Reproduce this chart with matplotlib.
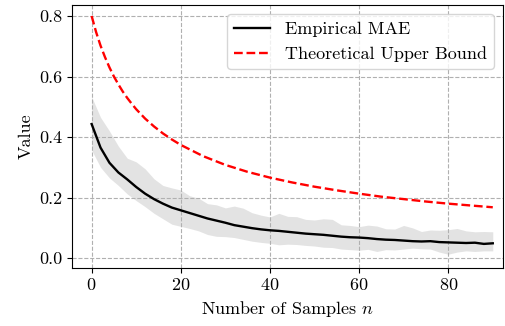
import matplotlib
matplotlib.use("Agg")
import matplotlib.pyplot as plt

plt.rcParams['font.family'] = 'serif'
plt.rcParams['font.serif'] = ['cmr10', 'DejaVu Serif']
plt.rcParams['mathtext.fontset'] = 'cm'
plt.rcParams['axes.formatter.use_mathtext'] = True

# Empirical MAE (mean and band), sample counts
n_emp = list(range(0, 91, 2))
mae_mean = [0.443, 0.365, 0.315, 0.283, 0.260, 0.235, 0.213, 0.195, 0.180, 0.167,
            0.158, 0.149, 0.140, 0.131, 0.124, 0.117, 0.109, 0.104, 0.099, 0.095,
            0.092, 0.090, 0.087, 0.084, 0.081, 0.079, 0.077, 0.074, 0.071, 0.069,
            0.068, 0.066, 0.063, 0.061, 0.060, 0.058, 0.056, 0.055, 0.056, 0.053,
            0.052, 0.051, 0.050, 0.051, 0.047, 0.049]
mae_upper = [0.533, 0.465, 0.420, 0.370, 0.330, 0.318, 0.295, 0.262, 0.240, 0.232,
             0.225, 0.206, 0.198, 0.180, 0.176, 0.166, 0.172, 0.165, 0.150, 0.142,
             0.136, 0.148, 0.138, 0.137, 0.128, 0.126, 0.130, 0.128, 0.110, 0.108,
             0.104, 0.109, 0.106, 0.097, 0.096, 0.108, 0.100, 0.088, 0.093, 0.092,
             0.094, 0.098, 0.090, 0.087, 0.088, 0.087]
mae_lower = [0.357, 0.300, 0.265, 0.240, 0.212, 0.190, 0.170, 0.148, 0.130, 0.112,
             0.105, 0.098, 0.090, 0.078, 0.072, 0.071, 0.068, 0.062, 0.056, 0.052,
             0.049, 0.044, 0.046, 0.045, 0.042, 0.040, 0.036, 0.035, 0.030, 0.028,
             0.026, 0.029, 0.022, 0.028, 0.027, 0.030, 0.033, 0.031, 0.030, 0.020,
             0.013, 0.020, 0.024, 0.022, 0.024, 0.024]

# Theoretical upper bound
n_th = [0, 1, 2, 3, 4, 5, 6, 7, 8, 9, 10, 12, 14, 16, 18, 20, 25, 30, 35, 40,
        45, 50, 55, 60, 65, 70, 75, 80, 85, 90]
bound = [0.800, 0.747, 0.702, 0.664, 0.630, 0.600, 0.574, 0.550, 0.529, 0.510,
         0.492, 0.461, 0.435, 0.412, 0.392, 0.374, 0.337, 0.308, 0.285, 0.266,
         0.250, 0.236, 0.224, 0.213, 0.203, 0.195, 0.187, 0.180, 0.174, 0.168]

fig = plt.figure(figsize=(5.05, 3.26), dpi=100)
ax = fig.add_axes([0.1426, 0.1794, 0.8535, 0.805])

ax.fill_between(n_emp, mae_lower, mae_upper, color='#b0b0b0', alpha=0.35, linewidth=0)
ax.plot(n_emp, mae_mean, color='black', linewidth=1.7, label='Empirical MAE')
ax.plot(n_th, bound, color='red', linestyle='--', linewidth=1.7,
        label='Theoretical Upper Bound')

ax.set_xlim(-4.4, 92.3)
ax.set_ylim(-0.031, 0.836)
ax.set_xticks([0, 20, 40, 60, 80])
ax.set_yticks([0.0, 0.2, 0.4, 0.6, 0.8])
ax.set_yticklabels(['0.0', '0.2', '0.4', '0.6', '0.8'])
ax.grid(True, linestyle='--', color='#b0b0b0', linewidth=0.8)
ax.tick_params(labelsize=13)
ax.set_xlabel(r'Number of Samples $n$', fontsize=13)
ax.set_ylabel('Value', fontsize=13)
ax.legend(loc='upper right', fontsize=13)

fig.savefig('out.png', dpi=100)
